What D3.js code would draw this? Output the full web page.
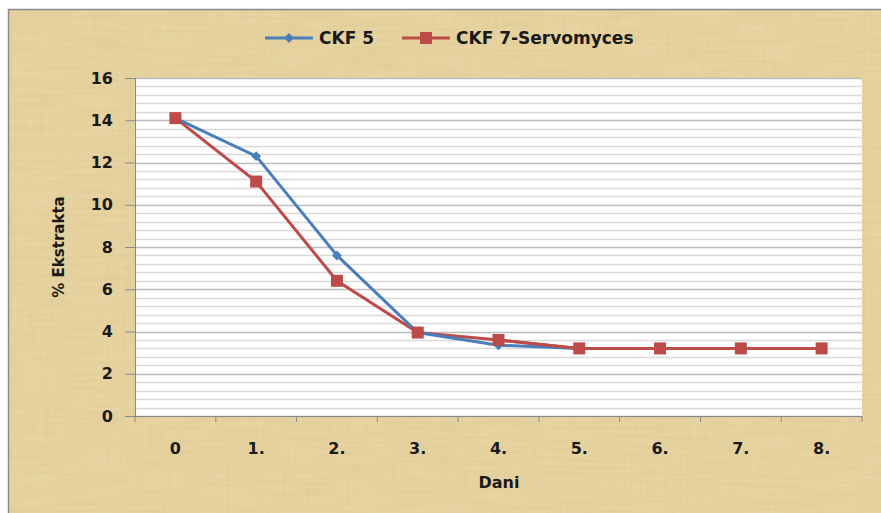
<!DOCTYPE html>
<html>
<head>
<meta charset="utf-8">
<script src="https://cdn.jsdelivr.net/npm/d3@7"></script>
<style>
  body { margin: 0; background: #fff; }
  svg { display: block; }
  text { font-family: "DejaVu Sans", Verdana, sans-serif; font-weight: bold; fill: #1a1a1a; }
</style>
</head>
<body>
<div id="chart"></div>
<script>
// chart data
var days = ["0", "1.", "2.", "3.", "4.", "5.", "6.", "7.", "8."];
var ckf5 = [14.1, 12.3, 7.6, 3.95, 3.35, 3.2, 3.2, 3.2, 3.2];
var ckf7 = [14.1, 11.1, 6.4, 3.95, 3.6, 3.2, 3.2, 3.2, 3.2];
var yTicks = [0, 2, 4, 6, 8, 10, 12, 14, 16];
var seriesNames = ["CKF 5", "CKF 7-Servomyces"];

var WIDTH = 881, HEIGHT = 513;
var plot = {left: 135, top: 78, right: 862, bottom: 416};

var svg = d3.select("#chart").append("svg")
    .attr("width", WIDTH)
    .attr("height", HEIGHT);

/* parchment-ish texture: horizontal + vertical weave */
var defs = svg.append("defs");
var filt = defs.append("filter").attr("id", "paper")
    .attr("x", 0).attr("y", 0).attr("width", "100%").attr("height", "100%");
filt.append("feTurbulence").attr("type", "fractalNoise")
    .attr("baseFrequency", "0.015 0.3").attr("numOctaves", 3).attr("seed", 4).attr("result", "noise");
filt.append("feColorMatrix").attr("in", "noise").attr("type", "matrix")
    .attr("values", "0 0 0 0 0.6  0 0 0 0 0.45  0 0 0 0 0.2  0 0 0 0.3 0")
    .attr("result", "tint");
filt.append("feComposite").attr("in", "tint").attr("in2", "SourceGraphic").attr("operator", "in");
var filt2 = defs.append("filter").attr("id", "paper2")
    .attr("x", 0).attr("y", 0).attr("width", "100%").attr("height", "100%");
filt2.append("feTurbulence").attr("type", "fractalNoise")
    .attr("baseFrequency", "0.3 0.02").attr("numOctaves", 2).attr("seed", 9).attr("result", "noise");
filt2.append("feColorMatrix").attr("in", "noise").attr("type", "matrix")
    .attr("values", "0 0 0 0 0.6  0 0 0 0 0.45  0 0 0 0 0.2  0 0 0 0.18 0")
    .attr("result", "tint");
filt2.append("feComposite").attr("in", "tint").attr("in2", "SourceGraphic").attr("operator", "in");

svg.append("rect").attr("x", 8).attr("y", 9)
    .attr("width", WIDTH).attr("height", HEIGHT)
    .attr("fill", "#ecdaa8");
svg.append("rect").attr("x", 8).attr("y", 9)
    .attr("width", WIDTH).attr("height", HEIGHT)
    .attr("fill", "#ecdaa8").attr("filter", "url(#paper)");
svg.append("rect").attr("x", 8).attr("y", 9)
    .attr("width", WIDTH).attr("height", HEIGHT)
    .attr("fill", "#ecdaa8").attr("filter", "url(#paper2)");
svg.append("path")
    .attr("d", "M8.5," + HEIGHT + "V9.5H" + WIDTH)
    .attr("fill", "none").attr("stroke", "#8a8a8a").attr("stroke-width", 1.5);

var x = d3.scaleBand().domain(days).range([plot.left, plot.right]).paddingInner(0).paddingOuter(0);
var y = d3.scaleLinear().domain([0, 16]).range([plot.bottom, plot.top]);

svg.append("rect")
    .attr("x", plot.left).attr("y", plot.top)
    .attr("width", plot.right - plot.left).attr("height", plot.bottom - plot.top)
    .attr("fill", "#fff");

/* gridlines: minor every 0.4, major every 2 */
var minor = d3.range(0, 16.001, 0.4);
svg.append("g").selectAll("line").data(minor).enter().append("line")
    .attr("x1", plot.left).attr("x2", plot.right)
    .attr("y1", function(d){ return Math.round(y(d)) + 0.5; })
    .attr("y2", function(d){ return Math.round(y(d)) + 0.5; })
    .attr("stroke", function(d){ return Math.abs(d / 2 - Math.round(d / 2)) < 1e-6 ? "#bdbdbd" : "#d9d9d9"; })
    .attr("stroke-width", 1.5);

/* y axis */
var yAxis = svg.append("g")
    .attr("transform", "translate(" + plot.left + ",0)")
    .call(d3.axisLeft(y).tickValues(yTicks).tickSize(10).tickPadding(12));
yAxis.select(".domain").attr("stroke", "#8a8a8a");
yAxis.selectAll(".tick line").attr("stroke", "#8a8a8a");
yAxis.selectAll("text").style("font-size", "16px").attr("fill", "#1a1a1a");

/* x axis: ticks between categories */
var xAxisG = svg.append("g").attr("transform", "translate(0," + plot.bottom + ")");
xAxisG.append("line").attr("x1", plot.left).attr("x2", plot.right)
    .attr("y1", 0.5).attr("y2", 0.5).attr("stroke", "#8a8a8a");
var bounds = days.map(function(d){ return x(d); }).concat([plot.right]);
xAxisG.selectAll(".xt").data(bounds).enter().append("line")
    .attr("x1", function(d){ return d; }).attr("x2", function(d){ return d; })
    .attr("y1", 0).attr("y2", 6).attr("stroke", "#8a8a8a");
xAxisG.selectAll(".xl").data(days).enter().append("text")
    .attr("x", function(d){ return x(d) + x.bandwidth() / 2; })
    .attr("y", 38)
    .attr("text-anchor", "middle")
    .style("font-size", "16px")
    .text(function(d){ return d; });

/* axis titles */
svg.append("text").attr("x", 499).attr("y", 488)
    .attr("text-anchor", "middle").style("font-size", "16px").text("Dani");
svg.append("text")
    .attr("transform", "translate(64," + ((plot.top + plot.bottom) / 2) + ") rotate(-90)")
    .attr("text-anchor", "middle").style("font-size", "15px").text("% Ekstrakta");

/* series */
var cx = function(d, i){ return x(days[i]) + x.bandwidth() / 2; };
var line = d3.line().x(cx).y(function(d){ return y(d); });

svg.append("path").datum(ckf7)
    .attr("d", line).attr("fill", "none")
    .attr("stroke", "#be4b48").attr("stroke-width", 3);
svg.append("path").datum(ckf5)
    .attr("d", line).attr("fill", "none")
    .attr("stroke", "#4a7ebb").attr("stroke-width", 3);
svg.append("path").datum(ckf7.slice(4))
    .attr("d", d3.line().x(function(d, i){ return cx(d, i + 4); }).y(function(d){ return y(d); }))
    .attr("fill", "none").attr("stroke", "#be4b48").attr("stroke-width", 3);

svg.append("g").selectAll("rect").data(ckf5).enter().append("rect")
    .attr("x", -3.5).attr("y", -3.5).attr("width", 7).attr("height", 7)
    .attr("transform", function(d, i){ return "translate(" + cx(d, i) + "," + y(d) + ") rotate(45)"; })
    .attr("fill", "#4a7ebb");
svg.append("g").selectAll("rect").data(ckf7).enter().append("rect")
    .attr("x", function(d, i){ return cx(d, i) - 6; })
    .attr("y", function(d){ return y(d) - 6; })
    .attr("width", 12).attr("height", 12)
    .attr("fill", "#be4b48");

/* legend */
var legend = svg.append("g");
var lx = [265, 402];
var colors = ["#4a7ebb", "#be4b48"];
seriesNames.forEach(function(name, i){
    var g = legend.append("g").attr("transform", "translate(" + lx[i] + ",38)");
    g.append("line").attr("x1", 0).attr("x2", 48).attr("y1", 0).attr("y2", 0)
        .attr("stroke", colors[i]).attr("stroke-width", 3);
    if (i === 0) {
        g.append("rect").attr("x", -3.5).attr("y", -3.5).attr("width", 7).attr("height", 7)
            .attr("transform", "translate(24,0) rotate(45)").attr("fill", colors[i]);
    } else {
        g.append("rect").attr("x", 18).attr("y", -6).attr("width", 12).attr("height", 12).attr("fill", colors[i]);
    }
    g.append("text").attr("x", 54).attr("y", 6).style("font-size", "17px").text(name);
});
</script>
</body>
</html>
